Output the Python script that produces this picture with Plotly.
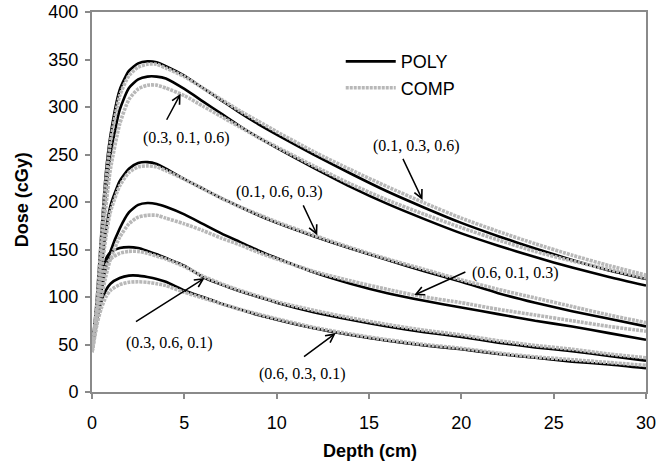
import plotly.graph_objects as go

depth = [0, 0.25, 0.5, 0.75, 1, 1.5, 2, 2.5, 3, 3.5, 4, 5, 6, 7, 8, 9, 10,
         12, 14, 16, 18, 20, 22, 24, 26, 28, 30]

# (0.1, 0.3, 0.6)
poly_a = [45, 95, 165, 230, 270, 318, 338, 346, 348, 347, 343, 333, 320, 307, 294, 282, 271,
          250, 230, 211, 194, 178, 164, 151, 139, 128, 119]
comp_a = [43, 90, 160, 222, 263, 312, 333, 342, 345, 345, 341, 332, 320, 308, 296, 285, 274,
          253, 234, 216, 199, 183, 169, 156, 144, 133, 123]
# (0.3, 0.1, 0.6)
poly_b = [45, 85, 150, 210, 250, 297, 320, 329, 332, 332, 330, 319, 306, 293, 280, 268, 257,
          236, 216, 198, 182, 167, 154, 142, 131, 121, 112]
comp_b = [42, 80, 140, 195, 235, 282, 308, 319, 323, 323, 320, 312, 301, 290, 279, 268, 258,
          238, 219, 202, 187, 173, 160, 148, 138, 129, 120]
# (0.1, 0.6, 0.3)
poly_c = [45, 85, 130, 170, 196, 222, 235, 241, 242, 240, 235, 224, 214, 204, 195, 186, 178,
          164, 151, 139, 127, 116, 104, 94, 85, 77, 69]
comp_c = [42, 80, 125, 163, 190, 217, 231, 237, 238, 237, 233, 224, 214, 204, 195, 187, 179,
          165, 152, 140, 129, 118, 108, 99, 90, 81, 73]
# (0.6, 0.1, 0.3)
poly_d = [45, 75, 105, 130, 148, 172, 189, 197, 199, 198, 195, 187, 177, 167, 158, 149, 141,
          126, 114, 104, 96, 89, 82, 75, 69, 62, 55]
comp_d = [42, 70, 98, 122, 140, 163, 177, 184, 186, 186, 183, 177, 170, 162, 155, 147, 140,
          127, 117, 108, 100, 94, 87, 81, 75, 69, 64]
# (0.3, 0.6, 0.1)
poly_e = [45, 85, 120, 140, 147, 151.5, 152.5, 151.5, 148.5, 145, 141, 133, 121, 113, 106, 100, 94,
          84, 76, 69, 63, 58, 52, 47, 43, 38, 33]
comp_e = [42, 80, 112, 132, 140, 146, 148, 148, 146, 143, 140, 132, 122, 114, 107, 101, 95,
          86, 78, 71, 65, 60, 54, 49, 45, 40, 36]
# (0.6, 0.3, 0.1)
poly_f = [45, 75, 95, 107, 114, 120, 122.5, 122.5, 121, 119, 116, 107, 100, 93, 87, 81, 76,
          67, 60, 54, 49, 45, 40, 36, 32, 29, 25]
comp_f = [42, 70, 88, 100, 107, 113, 115.5, 116, 115.5, 114, 112, 105, 99, 93, 87, 82, 77,
          68, 61, 55, 50, 46, 41, 37, 34, 31, 28]

poly_sets = [poly_a, poly_b, poly_c, poly_d, poly_e, poly_f]
comp_sets = [comp_a, comp_b, comp_c, comp_d, comp_e, comp_f]

labels = ["(0.3, 0.1, 0.6)", "(0.1, 0.6, 0.3)", "(0.1, 0.3, 0.6)",
          "(0.6, 0.1, 0.3)", "(0.3, 0.6, 0.1)", "(0.6, 0.3, 0.1)"]
# label centre, arrow tail, arrow tip (data coords)
label_pos = [(5.1, 267), (10.15, 211), (17.55, 259), (22.95, 125), (4.2, 51.5), (11.4, 19)]
arrow_tail = [(4.0, 285), (11.4, 198), (16.8, 247), (20.3, 127), (2.3, 73), (11.4, 36)]
arrow_tip = [(4.8, 314), (12.2, 165), (17.9, 202), (17.45, 102), (6.1, 120), (13.2, 62)]

fig = go.Figure()
for i, ys in enumerate(poly_sets):
    fig.add_trace(go.Scatter(x=depth, y=ys, mode="lines", name="POLY",
                             line=dict(color="black", width=2.6, shape="spline", smoothing=0.6),
                             legendgroup="poly", showlegend=(i == 0)))
for i, ys in enumerate(comp_sets):
    fig.add_trace(go.Scatter(x=depth, y=ys, mode="lines", name="COMP",
                             line=dict(color="#b8b8b8", width=3.6, shape="spline", smoothing=0.6,
                                       dash="3px,1px"),
                             legendgroup="comp", showlegend=(i == 0)))

serif = "Liberation Serif, Times New Roman, serif"
for txt, (lx, ly), (tx, ty), (hx, hy) in zip(labels, label_pos, arrow_tail, arrow_tip):
    fig.add_annotation(x=lx, y=ly, text=txt, showarrow=False,
                       font=dict(family=serif, size=16, color="black"))
    fig.add_annotation(x=hx, y=hy, ax=tx, ay=ty, axref="x", ayref="y", text="",
                       showarrow=True, arrowhead=5, arrowsize=1.1, arrowwidth=1.5,
                       arrowcolor="black")

sans = "Liberation Sans, Arial, sans-serif"
axis_common = dict(showline=True, linecolor="#8a8a8a", linewidth=2, mirror=True,
                   ticks="outside", ticklen=5, tickwidth=1.5, tickcolor="#8a8a8a",
                   showgrid=False, zeroline=False, automargin=False,
                   tickfont=dict(family=sans, size=18, color="black"))

fig.update_xaxes(range=[0, 30], dtick=5, ticklabelstandoff=8, **axis_common)
fig.update_yaxes(range=[0, 400], dtick=50, ticklabelstandoff=3, **axis_common)

# axis titles
fig.add_annotation(xref="paper", yref="paper", x=0.502, y=-0.155, xanchor="center",
                   yanchor="middle", text="<b>Depth (cm)</b>",
                   showarrow=False, font=dict(family=sans, size=18, color="black"))
fig.add_annotation(xref="paper", yref="paper", x=-0.126, y=0.505, xanchor="center",
                   yanchor="middle", text="<b>Dose (cGy)</b>",
                   showarrow=False, textangle=-90, font=dict(family=sans, size=18, color="black"))

fig.update_layout(
    width=669, height=466,
    margin=dict(l=92, r=23, t=12, b=74, autoexpand=False),
    plot_bgcolor="white", paper_bgcolor="white",
    legend=dict(x=0.449, y=0.918, xanchor="left", yanchor="top",
                font=dict(family=sans, size=18, color="black"),
                bgcolor="rgba(0,0,0,0)", tracegroupgap=0, itemwidth=50),
)

fig.write_html("out.html")
